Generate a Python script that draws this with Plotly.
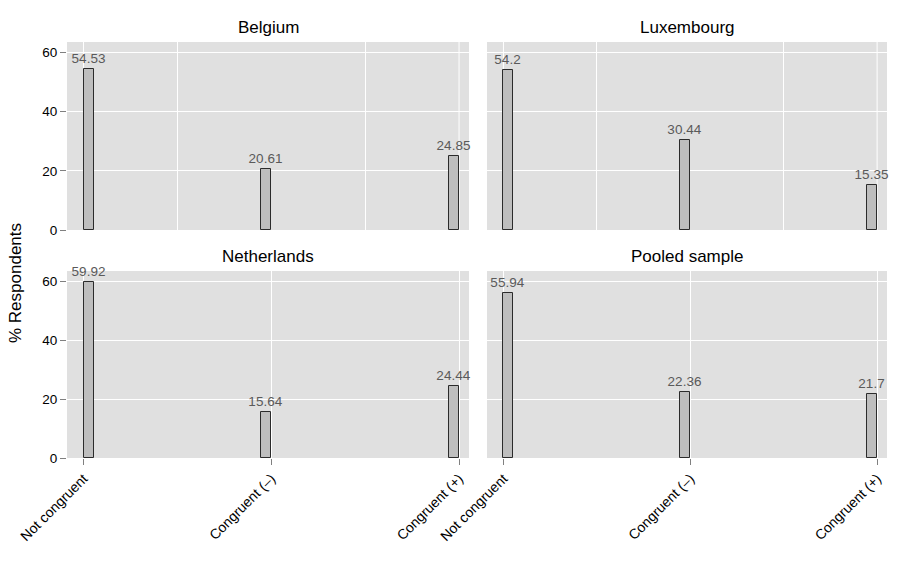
import plotly.graph_objects as go

categories = ["Not congruent", "Congruent (\u2013)", "Congruent (+)"]
countries = ["Belgium", "Luxembourg", "Netherlands", "Pooled sample"]
belgium = [54.53, 20.61, 24.85]
luxembourg = [54.2, 30.44, 15.35]
netherlands = [59.92, 15.64, 24.44]
pooled = [55.94, 22.36, 21.7]
y_ticks = [0, 20, 40, 60]

series = [belgium, luxembourg, netherlands, pooled]

W, H = 907, 564
FONT = "Liberation Sans, Arial, Helvetica, sans-serif"
cols = [(67, 469), (487, 887)]
rows = [(42, 230), (271, 458)]

BAR_W = 0.0533
offsets = [0, -BAR_W, -BAR_W]

fig = go.Figure()
layout = {}
annotations = []
shapes = []

for i, (name, vals) in enumerate(zip(countries, series)):
    r, c = divmod(i, 2)
    n = i + 1
    xa = "x" if n == 1 else f"x{n}"
    ya = "y" if n == 1 else f"y{n}"
    fig.add_trace(go.Bar(
        x=categories, y=vals, xaxis=xa, yaxis=ya,
        width=BAR_W, offset=offsets,
        marker=dict(color="#bebebe", line=dict(color="#2b2b2b", width=1)),
        text=[str(v) for v in vals], textposition="outside",
        constraintext="none", cliponaxis=False,
        textfont=dict(color="#5a5a5a", size=13.5, family=FONT),
        showlegend=False, hoverinfo="skip",
    ))
    x0, x1 = cols[c]
    top, bot = rows[r]
    xdom = [x0 / W, x1 / W]
    ydom = [1 - bot / H, 1 - top / H]
    xkey = "xaxis" if n == 1 else f"xaxis{n}"
    ykey = "yaxis" if n == 1 else f"yaxis{n}"
    xaxis = dict(
        domain=xdom, anchor=ya, type="category", automargin=False,
        categoryorder="array", categoryarray=categories,
        range=[-0.088, 2.053], showgrid=True, gridcolor="white", gridwidth=1,
        zeroline=False, showline=False, fixedrange=True,
    )
    if r == 0:
        xaxis.update(showticklabels=False, ticks="", tickson="boundaries")
        for k in (0, len(categories) - 1):
            shapes.append(dict(type="line", xref=xa, yref=f"{ya} domain",
                               x0=k, x1=k, y0=0, y1=1, layer="below",
                               line=dict(color="white", width=1)))
    else:
        xaxis.update(showticklabels=True, ticks="outside", ticklen=6,
                     tickcolor="#808080", tickwidth=1, tickangle=-45,
                     tickfont=dict(size=14, color="black", family=FONT))
    yaxis = dict(
        domain=ydom, anchor=xa, range=[0, 63.5], tickvals=y_ticks,
        automargin=False,
        showgrid=True, gridcolor="white", gridwidth=1, zeroline=False,
        showline=False, fixedrange=True,
    )
    if c == 0:
        yaxis.update(showticklabels=True, ticks="outside", ticklen=6,
                     tickcolor="#808080", tickwidth=1,
                     tickfont=dict(size=13.5, color="black", family=FONT))
    else:
        yaxis.update(showticklabels=False, ticks="")
    layout[xkey] = xaxis
    layout[ykey] = yaxis
    annotations.append(dict(
        text=name, x=(xdom[0] + xdom[1]) / 2, y=ydom[1], xref="paper", yref="paper",
        xanchor="center", yanchor="bottom", yshift=3, showarrow=False,
        font=dict(size=17, color="black", family=FONT),
    ))

annotations.append(dict(
    text="% Respondents", x=15 / W, y=1 - 283 / H, xref="paper", yref="paper",
    xanchor="center", yanchor="middle", textangle=-90, showarrow=False,
    font=dict(size=17, color="black", family=FONT),
))

fig.update_layout(
    width=W, height=H, margin=dict(l=0, r=0, t=0, b=0, autoexpand=False),
    paper_bgcolor="white", plot_bgcolor="#e0e0e0",
    annotations=annotations, shapes=shapes, bargap=0,
    font=dict(family=FONT), **layout,
)

fig.write_html(
    "out.html",
    config={"displayModeBar": False},
    post_script="document.body.style.margin='0';document.body.style.overflow='hidden';",
)
